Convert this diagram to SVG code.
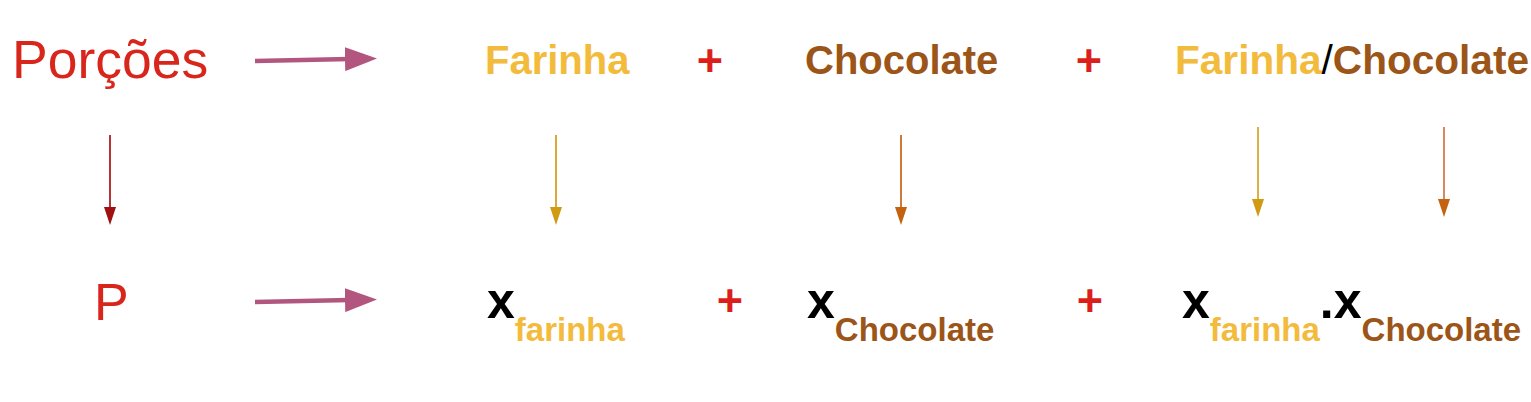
<svg xmlns="http://www.w3.org/2000/svg" width="1531" height="402" viewBox="0 0 1531 402">
<style>
text{font-family:"Liberation Sans",Arial,sans-serif}
.red{fill:#d9261c}
.b{font-weight:bold}
.far{fill:#f3bb3c}
.choc{fill:#9c5518}
.blk{fill:#000}
.plus{fill:#dc1f1a;font-weight:bold;font-size:45px}
.h{stroke:#b2567f;stroke-width:4.5;fill:none}
.v{stroke-width:2;fill:none}
</style>
<defs>
<marker id="mh" markerUnits="userSpaceOnUse" markerWidth="32" markerHeight="24" refX="5" refY="12" orient="auto"><path d="M0,0 L32,12 L0,24 z" fill="#b2567f"/></marker>
<marker id="mr" markerUnits="userSpaceOnUse" markerWidth="18" markerHeight="14" refX="3" refY="7" orient="auto"><path d="M0,1 L18,7 L0,13 z" fill="#a01010"/></marker>
<marker id="my" markerUnits="userSpaceOnUse" markerWidth="18" markerHeight="14" refX="3" refY="7" orient="auto"><path d="M0,1 L18,7 L0,13 z" fill="#d09a12"/></marker>
<marker id="mb" markerUnits="userSpaceOnUse" markerWidth="18" markerHeight="14" refX="3" refY="7" orient="auto"><path d="M0,1 L18,7 L0,13 z" fill="#c4620f"/></marker>
</defs>
<rect width="1531" height="402" fill="#fff"/>
<g id="connectors">
<line class="h" x1="255" y1="61" x2="350" y2="59" marker-end="url(#mh)"/>
<line class="h" x1="255" y1="302" x2="350" y2="300" marker-end="url(#mh)"/>
<line class="v" stroke="#b83434" x1="110" y1="135" x2="110" y2="210" marker-end="url(#mr)"/>
<line class="v" stroke="#dca83a" x1="556" y1="135" x2="556" y2="210" marker-end="url(#my)"/>
<line class="v" stroke="#d07a38" x1="901" y1="135" x2="901" y2="210" marker-end="url(#mb)"/>
<line class="v" stroke="#dcb048" x1="1258" y1="127" x2="1258" y2="202" marker-end="url(#my)"/>
<line class="v" stroke="#d8885a" x1="1444" y1="127" x2="1444" y2="202" marker-end="url(#mb)"/>
</g>
<g id="porcoes"><text class="red" x="12" y="78" font-size="53.5">Porções</text></g>
<g id="farinha"><text class="b far" x="485" y="74" font-size="40">Farinha</text></g>
<g id="plus1"><text class="plus" x="710" y="76" text-anchor="middle">+</text></g>
<g id="chocolate"><text class="b choc" x="805" y="74" font-size="40">Chocolate</text></g>
<g id="plus2"><text class="plus" x="1089" y="76" text-anchor="middle">+</text></g>
<g id="farinha-chocolate"><text class="b" x="1175" y="74" font-size="40.6"><tspan class="far">Farinha</tspan><tspan class="blk" font-weight="normal">/</tspan><tspan class="choc">Chocolate</tspan></text></g>
<g id="p"><text class="red" x="94" y="320" font-size="52">P</text></g>
<g id="x-farinha"><text class="b" x="487" y="318"><tspan class="blk" font-size="50">x</tspan><tspan class="far" font-size="33" y="341">farinha</tspan></text></g>
<g id="plus3"><text class="plus" x="730" y="316" text-anchor="middle">+</text></g>
<g id="x-chocolate"><text class="b" x="807" y="318"><tspan class="blk" font-size="50">x</tspan><tspan class="choc" font-size="33" y="341">Chocolate</tspan></text></g>
<g id="plus4"><text class="plus" x="1090" y="316" text-anchor="middle">+</text></g>
<g id="x-product"><text class="b" x="1182" y="318"><tspan class="blk" font-size="50">x</tspan><tspan class="far" font-size="33" y="341">farinha</tspan><tspan class="blk" font-size="50" y="318">.x</tspan><tspan class="choc" font-size="33" y="341">Chocolate</tspan></text></g>
</svg>
